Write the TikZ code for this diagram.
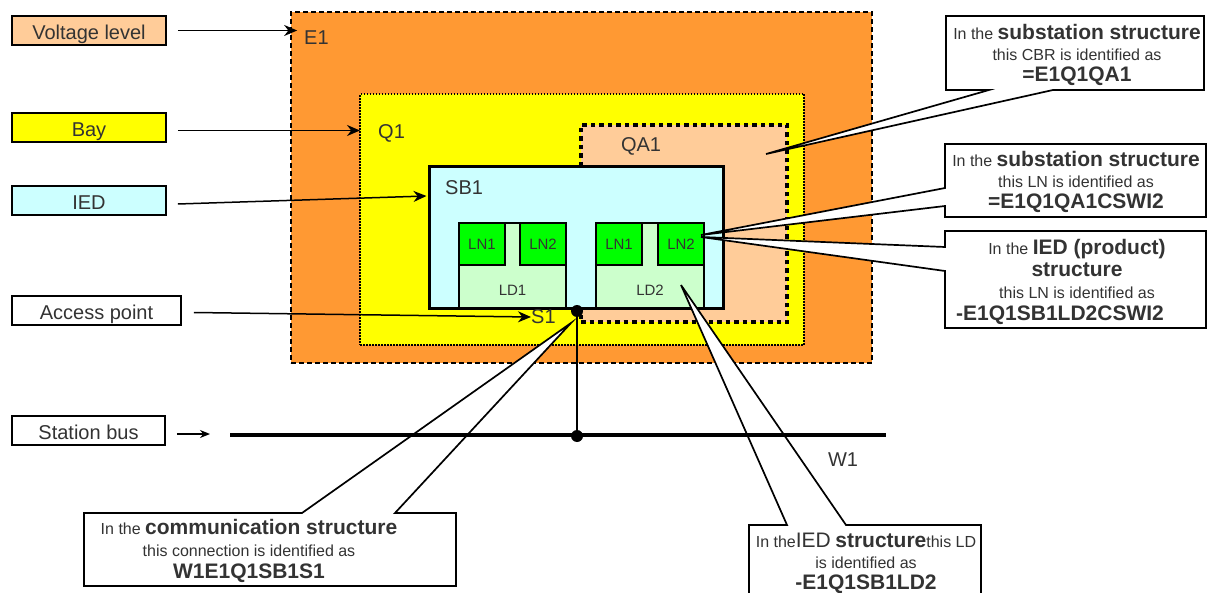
\documentclass[tikz,border=0pt]{standalone}
\usepackage{fontspec}
\setmainfont{Liberation Sans}
\usetikzlibrary{arrows.meta}
\definecolor{vlorange}{HTML}{FF9933}
\definecolor{baycol}{HTML}{FFFF00}
\definecolor{cbrcol}{HTML}{FFCC99}
\definecolor{iedcol}{HTML}{CCFFFF}
\definecolor{ldcol}{HTML}{CCFFCC}
\definecolor{lncol}{HTML}{00FF00}
\definecolor{textgray}{HTML}{333333}
\newcommand{\lblfont}{\fontsize{20}{24}\selectfont}
\newcommand{\lnfont}{\fontsize{15}{18}\selectfont}
\newcommand{\notebig}{\fontsize{21}{21}\selectfont\bfseries}

\begin{document}
\begin{tikzpicture}[x=1pt,y=-1pt]
        \tikzstyle{region}=[draw=black, inner sep=0pt]
        \tikzstyle{legend}=[draw=black, line width=1.7pt, minimum height=29, inner sep=0pt, text height=17.5pt, text depth=0pt, font=\lblfont, text=textgray]
        \tikzstyle{tag}=[inner sep=0pt, font=\lblfont, text=textgray]
        \tikzstyle{lnbox}=[draw=black, line width=1.5pt, fill=lncol, minimum width=46, minimum height=42, inner sep=0pt, font=\lnfont, text=textgray]
        \tikzstyle{ldbox}=[draw=black, line width=1.5pt, fill=ldcol, minimum height=85, inner sep=0pt]
        \tikzstyle{pointer}=[-{Stealth[length=13pt,width=11pt]}, line width=1.5pt]
        \tikzstyle{callout}=[draw=black, fill=white, line width=1.7pt]
        \tikzstyle{note}=[align=center, inner sep=0pt, text=textgray, font=\fontsize{16}{21}\selectfont]
        \tikzstyle{dot}=[circle, fill=black, minimum size=12, inner sep=0pt]
        \useasboundingbox (0,0) rectangle (1214,593);

        % nested structure
        \node [region, fill=vlorange, line width=1.7pt, dash pattern=on 5pt off 3pt, minimum width=581, minimum height=351] (e1) at (581.5,187.5) {};
        \node [region, fill=baycol, line width=2pt, dash pattern=on 1.5pt off 1.5pt, minimum width=444, minimum height=251] (q1) at (582,219.5) {};
        \node [region, fill=cbrcol, line width=4.5pt, dash pattern=on 4.5pt off 4pt, minimum width=206, minimum height=197] (qa1) at (684,223.5) {};
        \node [region, fill=iedcol, line width=3pt, minimum width=294, minimum height=141] (sb1) at (576,237.5) {};
        \node [ldbox, minimum width=107] (ld1) at (512.5,265.5) {};
        \node [ldbox, minimum width=108] (ld2) at (650,265.5) {};
        \node [lnbox] (ln11) at (482,244) {LN1};
        \node [lnbox] (ln12) at (543,244) {LN2};
        \node [lnbox] (ln21) at (619,244) {LN1};
        \node [lnbox] (ln22) at (681,244) {LN2};
        \node [font=\lnfont, text=textgray] (ld1lbl) at (512.5,290) {LD1};
        \node [font=\lnfont, text=textgray] (ld2lbl) at (650,290) {LD2};

        \node [tag, anchor=west] (e1lbl) at (304,38) {E1};
        \node [tag, anchor=west] (q1lbl) at (378,133) {Q1};
        \node [tag] (qa1lbl) at (641,146) {QA1};
        \node [tag, anchor=west] (sb1lbl) at (445,188) {SB1};
        \node [tag, anchor=west] (s1lbl) at (531,317) {S1};
        \node [tag] (w1lbl) at (843,460) {W1};

        % legend
        \node [legend, fill=cbrcol, minimum width=154] (vlevel) at (89,30.5) {Voltage level};
        \node [legend, fill=baycol, minimum width=154] (bay) at (89,127.5) {Bay};
        \node [legend, fill=iedcol, minimum width=154] (ied) at (89,200.5) {IED};
        \node [legend, fill=white, minimum width=169] (apoint) at (96.5,310.5) {Access point};
        \node [legend, fill=white, minimum width=153] (stbus) at (88.5,430.5) {Station bus};
        \coordinate (busend) at (210,434);

        \draw[pointer] ([xshift=11]vlevel.east) -- ([xshift=7]vlevel.east -| e1.west);
        \draw[pointer] ([xshift=11,yshift=-3]bay.east) -- ([xshift=1,yshift=-3]bay.east -| q1.west);
        \draw[pointer] ([xshift=11,yshift=-3.5]ied.east) -- ([xshift=-1,yshift=4.5]ied.east -| sb1.west);
        \draw[pointer] ([xshift=12,yshift=-2]apoint.east) -- (s1lbl.west);
        \draw[-{Stealth[length=10pt,width=8pt]}, line width=1.5pt] ([xshift=11,yshift=-3.5]stbus.east) -- (busend);

        % callouts
        \coordinate (cbrtip) at (766,154);
        \coordinate (lntip) at (701,235);
        \coordinate (lniedtip) at (701,237);
        \coordinate (commtip) at (571,323);
        \coordinate (ldtip) at (681,285);
        \path[callout] (946,16) -- (1204,16) -- (1204,90) -- (1053,90) -- (cbrtip) -- (989,90) -- (946,90) -- cycle;
        \path[callout] (945,144) -- (1206,144) -- (1206,217) -- (945,217) -- (945,206) -- (lntip) -- (945,188) -- cycle;
        \path[callout] (945,231) -- (1206,231) -- (1206,328) -- (945,328) -- (945,271) -- (lniedtip) -- (945,247) -- cycle;
        \path[callout] (84,513) -- (302,513) -- (commtip) -- (395,513) -- (456,513) -- (456,586) -- (84,586) -- cycle;
        \path[callout] (749,525) -- (787,525) -- (ldtip) -- (846,525) -- (981,525) -- (981,610) -- (749,610) -- cycle;

        \node [note] (cbrnote) at (1077,55) {In the {\notebig substation structure}\\ this CBR is identified as\\ {\notebig =E1Q1QA1}};
        \node [note] (lnnote) at (1076,182) {In the {\notebig substation structure}\\ this LN is identified as\\ {\notebig =E1Q1QA1CSWI2}};
        \node [note, font=\fontsize{16}{22}\selectfont] (lniednote) at (1077,282) {In the {\notebig IED (product)}\\ {\notebig structure}\\ this LN is identified as\\ {\notebig -E1Q1SB1LD2CSWI2}\hspace*{34pt}};
        \node [note, font=\fontsize{16}{22}\selectfont] (commnote) at (249,551) {In the {\notebig communication structure}\\ this connection is identified as\\ {\notebig W1E1Q1SB1S1}};
        \node [note] (ldnote) at (866,563) {In the{\fontsize{21}{21}\selectfont IED} {\notebig structure}this LD\\ is identified as\\ {\notebig -E1Q1SB1LD2}};

        % station bus
        \coordinate (busw) at (230,435);
        \coordinate (buse) at (886,435);
        \draw[line width=4pt] (busw) -- (buse);
        \node [dot] (s1dot) at (577,311) {};
        \node [dot] (busdot) at (577,436) {};
        \draw[line width=1.5pt] (s1dot) -- (busdot);
\end{tikzpicture}
\end{document}
